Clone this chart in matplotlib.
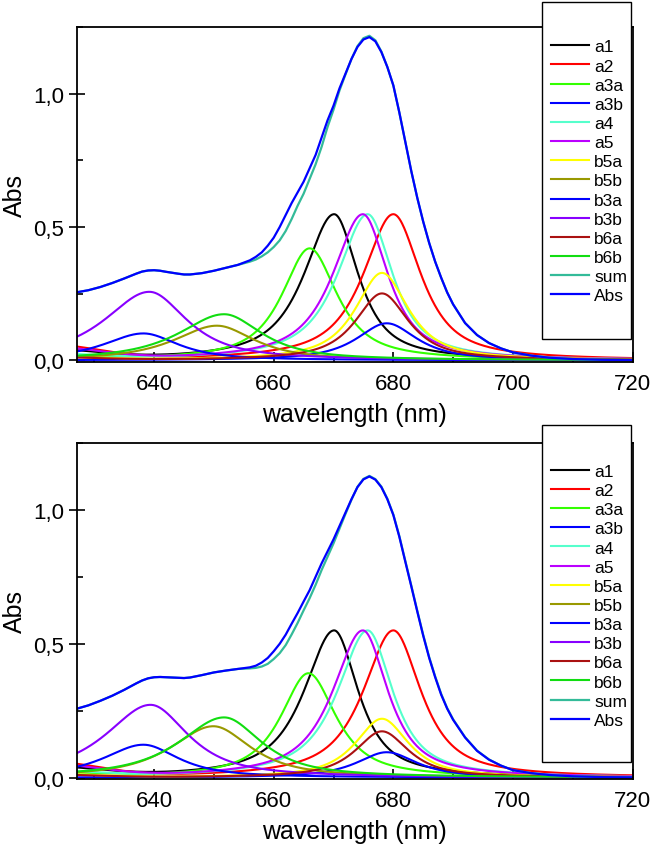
import numpy as np
import matplotlib
matplotlib.use("Agg")
import matplotlib.pyplot as plt
from matplotlib.patches import Rectangle
from matplotlib.ticker import FuncFormatter, MultipleLocator

plt.rcParams["font.family"] = ["Liberation Sans", "DejaVu Sans"]

# componentes (bandas)
nombres = ["a1", "a2", "a3a", "a3b", "a4", "a5", "b5a", "b5b", "b3a", "b3b", "b6a", "b6b"]
colores = ["#000000", "#ff0000", "#33ff00", "#0000ff", "#55ffcc", "#bb00ff",
           "#ffff00", "#999900", "#0000ff", "#8800ff", "#aa1111", "#11dd11"]

centro_sup = [670.1, 680.0, 666.0, 678.9, 675.7, 674.9, 678.1, 650.5, 638.2, 639.2, 678.1, 651.7]
altura_sup = [0.548, 0.548, 0.42, 0.139, 0.548, 0.548, 0.328, 0.130, 0.101, 0.257, 0.251, 0.173]
centro_inf = [670.1, 680.0, 665.8, 678.9, 675.7, 674.9, 678.1, 649.9, 638.2, 639.4, 678.1, 651.7]
altura_inf = [0.550, 0.550, 0.39, 0.095, 0.550, 0.550, 0.220, 0.192, 0.123, 0.272, 0.173, 0.225]
# semianchuras (nm) a cada lado del máximo
semi_izq = [6.0, 6.0, 5.5, 6.0, 6.0, 6.0, 5.3, 8.5, 8.0, 9.0, 5.3, 9.0]
semi_der = [4.8, 5.5, 5.5, 6.0, 5.0, 5.0, 5.3, 7.5, 7.0, 7.5, 5.3, 7.5]
satelite = [0.035, 0.055, 0.015, 0.0, 0.02, 0.045, 0.012, 0.0, 0.0, 0.0, 0.01, 0.0]

# espectro medido (Abs) y ajuste (sum)
wl_abs = [627, 629, 631, 633, 635, 637, 638, 639, 640, 641, 642, 644, 645, 646, 648, 650,
          652, 654, 656, 657, 658, 659, 660, 661, 662, 663, 664, 665, 666, 667, 668, 669,
          670, 671, 672, 673, 674, 675, 676, 677, 678, 679, 680, 681, 682, 683, 684, 685,
          686, 687, 688, 689, 690, 692, 694, 696, 698, 700, 703, 706, 710, 715, 720]
abs_sup = [0.255, 0.263, 0.275, 0.290, 0.307, 0.325, 0.333, 0.337, 0.338, 0.336, 0.332, 0.325,
           0.322, 0.322, 0.327, 0.336, 0.347, 0.358, 0.375, 0.388, 0.405, 0.430, 0.460, 0.500,
           0.545, 0.590, 0.630, 0.670, 0.720, 0.770, 0.835, 0.900, 0.955, 1.020, 1.075, 1.130,
           1.175, 1.203, 1.212, 1.196, 1.156, 1.100, 1.031, 0.930, 0.820, 0.710, 0.610, 0.520,
           0.440, 0.370, 0.310, 0.255, 0.210, 0.140, 0.095, 0.065, 0.045, 0.030, 0.018, 0.010,
           0.005, 0.002, 0.001]
suma_sup = [0.255, 0.263, 0.275, 0.290, 0.307, 0.325, 0.333, 0.337, 0.338, 0.336, 0.332, 0.325,
            0.322, 0.322, 0.327, 0.336, 0.347, 0.358, 0.370, 0.378, 0.390, 0.405, 0.425, 0.450,
            0.485, 0.530, 0.580, 0.625, 0.680, 0.735, 0.800, 0.875, 0.940, 1.012, 1.072, 1.130,
            1.178, 1.208, 1.217, 1.200, 1.158, 1.100, 1.031, 0.930, 0.820, 0.710, 0.610, 0.520,
            0.440, 0.370, 0.310, 0.255, 0.210, 0.140, 0.095, 0.065, 0.045, 0.030, 0.018, 0.010,
            0.005, 0.002, 0.001]
abs_inf = [0.257, 0.270, 0.287, 0.306, 0.328, 0.352, 0.363, 0.371, 0.375, 0.376, 0.375, 0.373,
           0.372, 0.374, 0.383, 0.393, 0.400, 0.406, 0.412, 0.418, 0.430, 0.447, 0.472, 0.500,
           0.534, 0.575, 0.615, 0.658, 0.700, 0.750, 0.800, 0.845, 0.890, 0.940, 0.990, 1.040,
           1.085, 1.114, 1.125, 1.113, 1.085, 1.040, 0.981, 0.900, 0.807, 0.715, 0.621, 0.530,
           0.447, 0.375, 0.310, 0.258, 0.216, 0.150, 0.100, 0.067, 0.045, 0.028, 0.017, 0.010,
           0.005, 0.002, 0.001]
suma_inf = [0.257, 0.270, 0.287, 0.306, 0.328, 0.352, 0.363, 0.371, 0.375, 0.376, 0.375, 0.373,
            0.372, 0.374, 0.383, 0.393, 0.400, 0.406, 0.408, 0.410, 0.415, 0.425, 0.443, 0.465,
            0.495, 0.535, 0.578, 0.625, 0.670, 0.720, 0.775, 0.825, 0.875, 0.930, 0.985, 1.038,
            1.086, 1.116, 1.127, 1.115, 1.087, 1.042, 0.983, 0.903, 0.810, 0.718, 0.624, 0.533,
            0.450, 0.378, 0.313, 0.260, 0.218, 0.151, 0.101, 0.068, 0.045, 0.028, 0.017, 0.010,
            0.005, 0.002, 0.001]

x = np.linspace(627, 720, 800)


def banda(c, h, wi, wd, s):
    # pseudo-Voigt asimétrico + pequeño satélite vibrónico en el azul
    w = np.where(x < c, wi, wd)
    u = (x - c) / w
    perfil = 0.85 / (1.0 + u ** 2) + 0.15 * np.exp(-np.log(2) * u ** 2)
    sat = s * np.exp(-4 * np.log(2) * ((x - 622) / 20.0) ** 2)
    return h * perfil + sat


fig = plt.figure(figsize=(6.52, 8.53), dpi=100)
paneles = [
    ([0.1181, 0.5748, 0.852, 0.3924], centro_sup, altura_sup, abs_sup, suma_sup, (0.8308, 0.6014), 0.9528),
    ([0.1181, 0.0856, 0.852, 0.3939], centro_inf, altura_inf, abs_inf, suma_inf, (0.8308, 0.1055), 0.4551),
]

coma = FuncFormatter(lambda v, pos: f"{v:.1f}".replace(".", ","))

for pos, centros, alturas, absorb, suma, caja, ley_y in paneles:
    ax = fig.add_axes(pos)
    for i, n in enumerate(nombres):
        ax.plot(x, banda(centros[i], alturas[i], semi_izq[i], semi_der[i], satelite[i]),
                color=colores[i], lw=1.5, label=n)
    ax.plot(wl_abs, suma, color="#33bb99", lw=1.6, label="sum")
    ax.plot(wl_abs, absorb, color="#0000ff", lw=1.6, label="Abs")

    ax.set_xlim(627.1, 720)
    ax.set_ylim(-0.005, 1.25)
    ax.xaxis.set_major_locator(MultipleLocator(20))
    ax.xaxis.set_minor_locator(MultipleLocator(10))
    ax.yaxis.set_major_locator(MultipleLocator(0.5))
    ax.yaxis.set_minor_locator(MultipleLocator(0.25))
    ax.yaxis.set_major_formatter(coma)
    ax.tick_params(axis="x", which="major", direction="in", length=7, width=1.2, pad=8, labelsize=16)
    ax.tick_params(axis="x", which="minor", direction="in", length=3.5, width=1.2)
    ax.tick_params(axis="y", which="major", direction="inout", length=11, width=1.2, pad=4, labelsize=16)
    ax.tick_params(axis="y", which="minor", direction="in", length=4, width=1.2)
    for sp in ax.spines.values():
        sp.set_linewidth(1.3)
    ax.set_xlabel("wavelength (nm)", fontsize=18, labelpad=6)
    ax.set_ylabel("Abs", fontsize=18, labelpad=4)

    # caja de la leyenda (sobresale por arriba del eje)
    rect = Rectangle((caja[0], caja[1]), 0.1369, 0.395, transform=fig.transFigure,
                     facecolor="white", edgecolor="black", lw=1.0, zorder=4, clip_on=False)
    ax.add_patch(rect)
    leg = ax.legend(loc="upper left", bbox_to_anchor=(caja[0] + 0.0138, ley_y),
                    bbox_transform=fig.transFigure, frameon=False, fontsize=12.5,
                    handlelength=2.2, handletextpad=0.3, labelspacing=0.23,
                    borderpad=0, borderaxespad=0)
    leg.set_zorder(5)

fig.savefig("out.png", dpi=100)
